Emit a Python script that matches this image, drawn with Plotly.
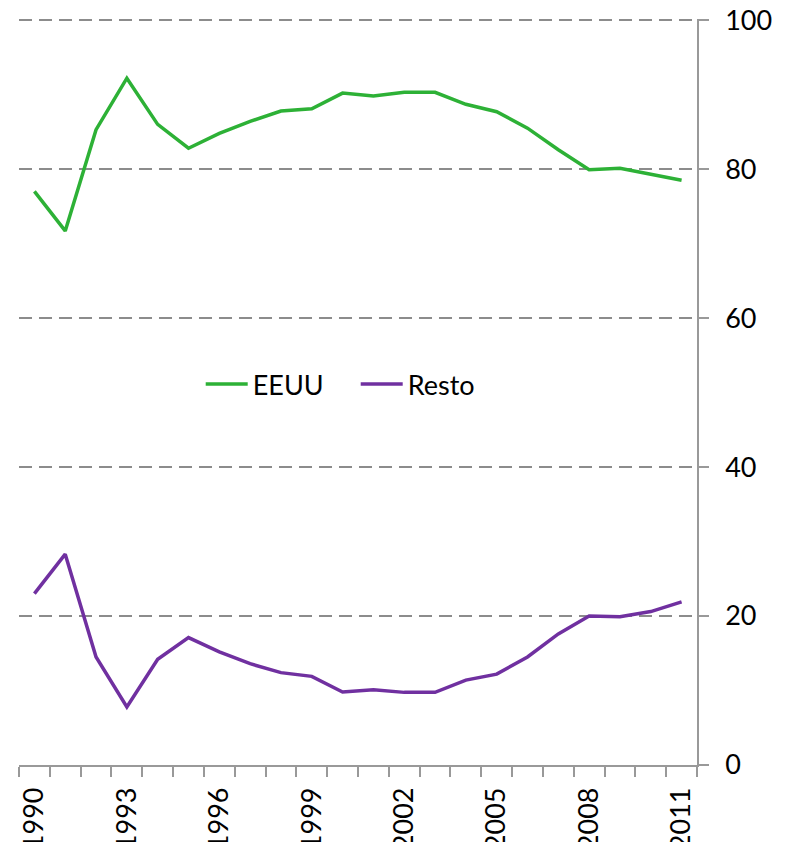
import plotly.graph_objects as go

years = list(range(1990, 2012))
eeuu = [77.0, 71.7, 85.3, 92.2, 86.0, 82.8, 84.8, 86.4, 87.8, 88.1, 90.2, 89.8,
        90.3, 90.3, 88.7, 87.7, 85.5, 82.6, 79.9, 80.1, 79.3, 78.5]
resto = [23.0, 28.3, 14.5, 7.8, 14.2, 17.1, 15.2, 13.6, 12.4, 11.9, 9.8, 10.1,
         9.75, 9.75, 11.4, 12.2, 14.5, 17.6, 20.0, 19.9, 20.6, 21.9]
label_years = [1990, 1993, 1996, 1999, 2002, 2005, 2008, 2011]
label_text = [str(y) for y in label_years]
y_ticks = [0, 20, 40, 60, 80, 100]

GREEN = "#2DB136"
PURPLE = "#7030A0"
AXIS = "#999999"
FONT = "Lato"

fig = go.Figure()
fig.add_trace(go.Scatter(x=years, y=eeuu, mode="lines", name="EEUU",
                         line=dict(color=GREEN, width=3.5)))
fig.add_trace(go.Scatter(x=years, y=resto, mode="lines", name="Resto",
                         line=dict(color=PURPLE, width=3.5)))

boundaries = [years[0] - 0.5 + k for k in range(len(years) + 1)]

# page body has an 8px margin; figure sized to fit the 793x850 window
fig.update_layout(
    width=777, height=834,
    margin=dict(l=11, r=88, t=11, b=77, autoexpand=False),
    paper_bgcolor="white", plot_bgcolor="white",
    font=dict(family=FONT, size=27, color="black"),
    showlegend=True,
    legend=dict(orientation="h", x=0.268, y=0.51, xanchor="left", yanchor="middle",
                bgcolor="rgba(0,0,0,0)", font=dict(size=27), itemwidth=42,
                entrywidth=98, entrywidthmode="pixels",
                tracegroupgap=0),
    xaxis=dict(
        range=[years[0] - 0.5, years[-1] + 0.5], automargin=False,
        tickmode="array", tickvals=label_years, ticktext=label_text,
        tickangle=-90, ticks="outside", ticklen=10, tickcolor="rgba(0,0,0,0)",
        showgrid=False, zeroline=False,
        showline=True, linecolor=AXIS, linewidth=1.5,
        minor=dict(tickmode="array", tickvals=boundaries, ticks="outside",
                   ticklen=10, tickcolor=AXIS, tickwidth=1.5, showgrid=False),
        tickfont=dict(size=27), ticklabeloverflow="allow",
    ),
    yaxis=dict(
        side="right", range=[0, 100.15], automargin=False,
        tickmode="array", tickvals=y_ticks,
        showgrid=True, gridcolor="#8c8c8c", gridwidth=1.5, griddash="13px,7px",
        zeroline=False, showline=True, linecolor=AXIS, linewidth=1.5,
        ticks="outside", ticklen=10, tickcolor=AXIS, tickwidth=1.5,
        ticklabelstandoff=11, ticklabeloverflow="allow",
        tickfont=dict(size=27),
    ),
)

fig.write_html("out.html")
